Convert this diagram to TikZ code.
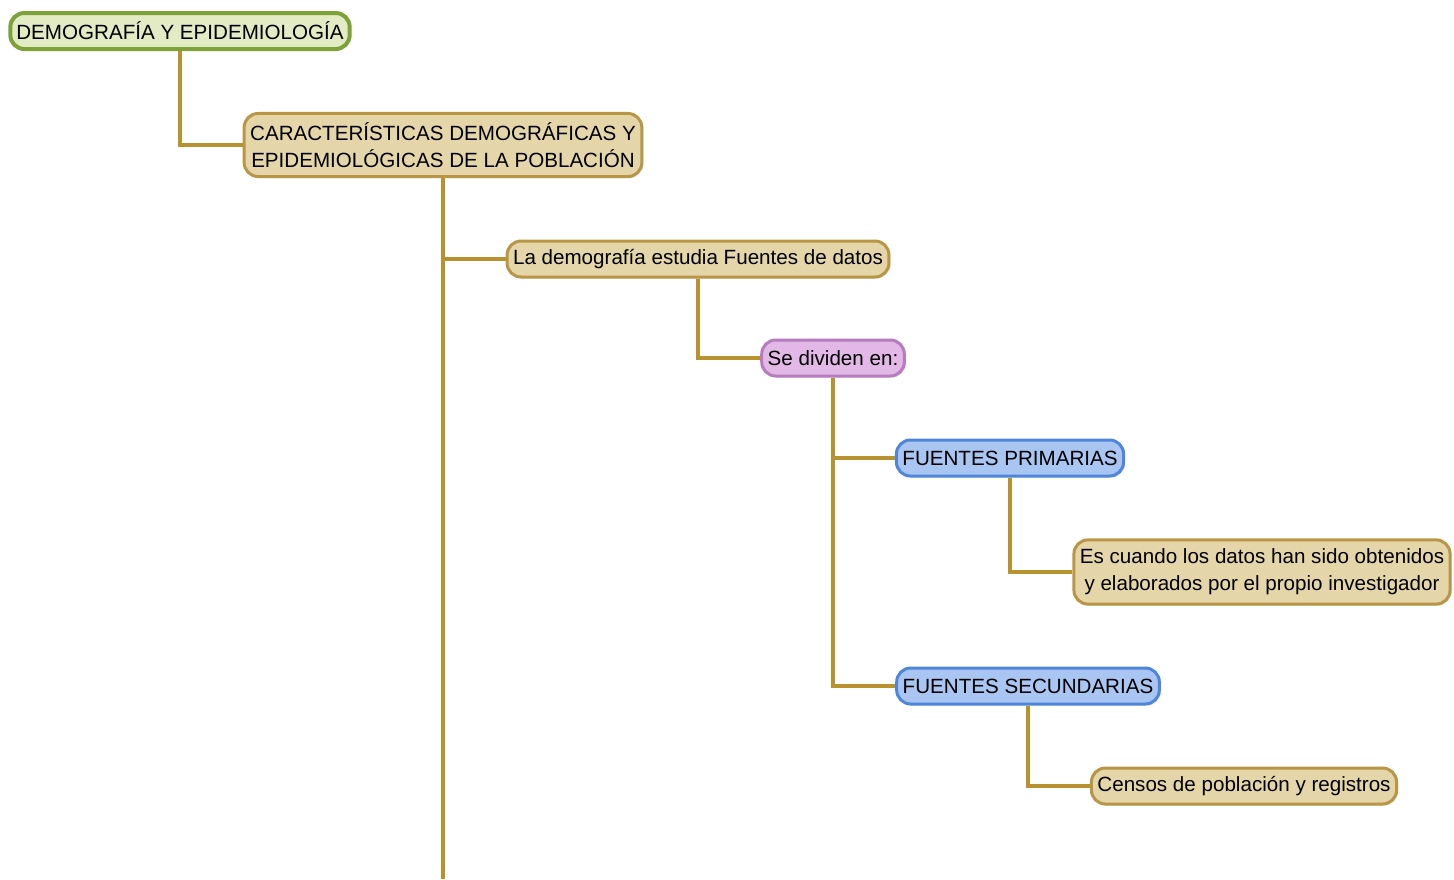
\documentclass[tikz,border=0pt]{standalone}
\usepackage{fontspec}
\setmainfont{Liberation Sans}
\usetikzlibrary{shadows}
\definecolor{linkgold}{HTML}{B8922E}
\definecolor{rootline}{HTML}{7DA23A}
\definecolor{rootfill}{HTML}{E3EBC5}
\definecolor{tanline}{HTML}{B89645}
\definecolor{tanfill}{HTML}{E5D6AA}
\definecolor{violetline}{HTML}{B87BC0}
\definecolor{violetfill}{HTML}{E2B9E6}
\definecolor{blueline}{HTML}{4F86DC}
\definecolor{bluefill}{HTML}{A9C6F2}
\tikzset{
	topic/.style={rectangle,rounded corners=7pt,line width=1.5pt,inner xsep=3pt,inner ysep=2pt,minimum height=18pt,align=center,font=\fontsize{10.3}{13.5}\selectfont,drop shadow={opacity=0.2,shadow xshift=0.8pt,shadow yshift=-0.8pt}},
	twoline/.style={inner ysep=4.5pt},
	rootbox/.style={topic,draw=rootline,fill=rootfill,line width=2pt},
	tanbox/.style={topic,draw=tanline,fill=tanfill},
	violetbox/.style={topic,draw=violetline,fill=violetfill},
	bluebox/.style={topic,draw=blueline,fill=bluefill},
	link/.style={draw=linkgold,line width=2pt}
}
\begin{document}
\begin{tikzpicture}[x=0.5pt,y=-0.5pt]
\useasboundingbox (0,0) rectangle (1454,879);
\node[rootbox] (Demo) at (180,31) {DEMOGRAFÍA Y EPIDEMIOLOGÍA};
\node[tanbox,twoline] (Caract) at (443,145) {CARACTERÍSTICAS DEMOGRÁFICAS Y\\EPIDEMIOLÓGICAS DE LA POBLACIÓN};
\node[tanbox] (Estudia) at (698,259) {La demografía estudia Fuentes de datos};
\node[violetbox] (Dividen) at (833,358) {Se dividen en:};
\node[bluebox] (Primarias) at (1010,458) {FUENTES PRIMARIAS};
\node[tanbox,twoline] (Obtenidos) at (1262,572) {Es cuando los datos han sido obtenidos\\y elaborados por el propio investigador};
\node[bluebox] (Secundarias) at (1028,686) {FUENTES SECUNDARIAS};
\node[tanbox] (Censos) at (1244,786) {Censos de población y registros};
\coordinate (Bottom) at (443,879);
% connectors
\draw[link] (Demo.south) |- (Caract.west);
\draw[link] (Caract.south) -- (Bottom);
\draw[link] (Caract.south) |- (Estudia.west);
\draw[link] (Estudia.south) |- (Dividen.west);
\draw[link] (Dividen.south) |- (Primarias.west);
\draw[link] (Dividen.south) |- (Secundarias.west);
\draw[link] (Primarias.south) |- (Obtenidos.west);
\draw[link] (Secundarias.south) |- (Censos.west);
\end{tikzpicture}
\end{document}
